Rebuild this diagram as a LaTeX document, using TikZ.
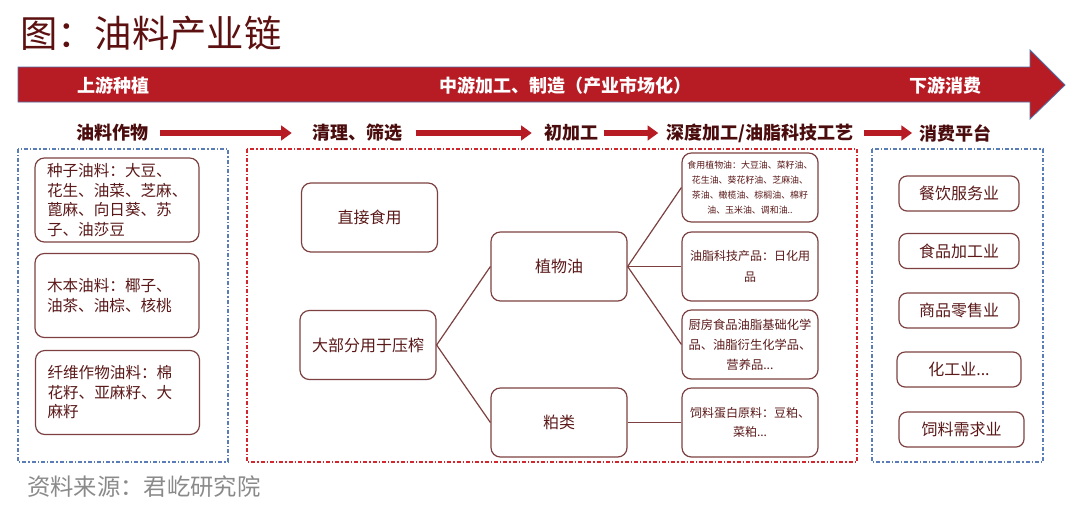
\documentclass[tikz,border=0pt]{standalone}
\usepackage{fontspec}
\setmainfont{Noto Sans CJK SC}
\usetikzlibrary{arrows.meta}
\definecolor{barred}{HTML}{B71C25}
\definecolor{barborder}{HTML}{4F6FA8}
\definecolor{titlecol}{HTML}{5C1010}
\definecolor{stagecol}{HTML}{4A0C0C}
\definecolor{boxline}{HTML}{7D4040}
\definecolor{boxtext}{HTML}{5A1818}
\definecolor{bluedash}{HTML}{5A7DB8}
\definecolor{reddash}{HTML}{D0282E}
\definecolor{srcgray}{HTML}{8A8A8A}
\begin{document}
\begin{tikzpicture}[x=0.75pt,y=-0.75pt,
  box/.style={draw=boxline, line width=0.9pt, rounded corners=7pt, text=boxtext, inner sep=0pt, align=center},
  bigbox/.style={box, minimum width=123pt, minimum height=63pt},
  midbox/.style={box, minimum width=102pt, minimum height=51.75pt, font=\fontsize{12pt}{15pt}\selectfont},
  rbox/.style={box, minimum width=102pt, minimum height=51.75pt},
  cbox/.style={box, rounded corners=6pt, minimum height=26.25pt, font=\fontsize{12pt}{15pt}\selectfont},
  panel/.style={line width=0.8pt, dash pattern=on 3pt off 1.6pt on 0.8pt off 1.6pt},
  barlabel/.style={text=white, font=\bfseries\fontsize{13.5pt}{16pt}\selectfont, inner sep=0pt},
  stagelabel/.style={text=stagecol, font=\bfseries\fontsize{13.5pt}{16pt}\selectfont, inner sep=0pt},
  stagearrow/.style={draw=barred, line width=5pt, -{Triangle[length=8pt,width=11pt]}},
  conn/.style={draw=boxline, line width=0.9pt}
]
\useasboundingbox (0,0) rectangle (1080,515);

% title
\node[anchor=west, text=titlecol, font=\fontsize{28pt}{32pt}\selectfont, inner sep=0pt] (title) at (20,33) {图：油料产业链};

% big arrow
\draw[fill=barred, draw=barborder, line width=0.6pt]
  (18,67) -- (1030,67) -- (1030,50) -- (1065,85) -- (1030,119) -- (1030,102) -- (18,102) -- cycle;
\node[barlabel] (b1) at (113,86) {上游种植};
\node[barlabel] (b2) at (565,86) {中游加工、制造（产业市场化）};
\node[barlabel] (b3) at (945,86) {下游消费};

% stage labels
\node[stagelabel] (s1) at (112,133) {油料作物};
\node[stagelabel] (s2) at (357,133) {清理、筛选};
\node[stagelabel] (s3) at (571,133) {初加工};
\node[stagelabel] (s4) at (760,133) {深度加工/油脂科技工艺};
\node[stagelabel] (s5) at (955,133) {消费平台};
\draw[stagearrow] ([xshift=9pt]s1.east) -- ([xshift=-15pt]s2.west);
\draw[stagearrow] ([xshift=10pt]s2.east) -- ([xshift=-9pt]s3.west);
\draw[stagearrow] ([xshift=4pt]s3.east) -- ([xshift=-6pt]s4.west);
\draw[stagearrow] ([xshift=8pt]s4.east) -- ([xshift=-5pt]s5.west);

% panels
\draw[panel, draw=bluedash] (18,149) rectangle (228,462);
\draw[panel, draw=reddash] (247,149) rectangle (857,462);
\draw[panel, draw=bluedash] (872,149) rectangle (1043,462);

% left boxes
\begin{scope}[every node/.append style={font=\fontsize{11.7pt}{14.6pt}\selectfont}]
\node[bigbox, text width=105pt, align=left] (l1) at (117,200) {种子油料：大豆、\\花生、油菜、芝麻、\\蓖麻、向日葵、苏\\子、油莎豆};
\node[bigbox, text width=105pt, align=left] (l2) at (117,295.5) {木本油料：椰子、\\油茶、油棕、核桃};
\node[bigbox, text width=105pt, align=left] (l3) at (117.5,392.5) {纤维作物油料：棉\\花籽、亚麻籽、大\\麻籽};
\end{scope}

% middle boxes
\node[midbox] (m0) at (369.5,217.5) {直接食用};
\node[midbox] (m1) at (368,345) {大部分用于压榨};
\node[midbox] (m2) at (559,266.5) {植物油};
\node[midbox] (m3) at (559,422.5) {粕类};

% right boxes
\node[rbox, font=\fontsize{6.7pt}{11.2pt}\selectfont] (r1) at (750,187.5) {食用植物油：大豆油、菜籽油、\\花生油、葵花籽油、芝麻油、\\茶油、橄榄油、棕榈油、棉籽\\油、玉米油、调和油..};
\node[rbox, font=\fontsize{9pt}{15.5pt}\selectfont] (r2) at (750,266.5) {油脂科技产品：日化用\\品};
\node[rbox, font=\fontsize{9.2pt}{15pt}\selectfont] (r3) at (750,344.5) {厨房食品油脂基础化学\\品、油脂衍生化学品、\\营养品...};
\node[rbox, font=\fontsize{9pt}{14pt}\selectfont] (r4) at (750,422.5) {饲料蛋白原料：豆粕、\\菜粕...};

% connectors
\draw[conn] (m1.east) -- (m2.west);
\draw[conn] (m1.east) -- (m3.west);
\draw[conn] (m2.east) -- (r1.west);
\draw[conn] (m2.east) -- (r2.west);
\draw[conn] (m2.east) -- (r3.west);
\draw[conn] (m3.east) -- (r4.west);

% consumer boxes
\node[cbox, minimum width=90pt] (c1) at (959,193.5) {餐饮服务业};
\node[cbox, minimum width=90pt] (c2) at (959,251) {食品加工业};
\node[cbox, minimum width=90pt] (c3) at (959,310.5) {商品零售业};
\node[cbox, minimum width=93pt] (c4) at (959,369.5) {化工业...};
\node[cbox, minimum width=93.75pt] (c5) at (961.5,429.5) {饲料需求业};

% source
\node[anchor=west, text=srcgray, font=\fontsize{17.5pt}{20pt}\selectfont, inner sep=0pt] (src) at (27,487) {资料来源：君屹研究院};
\end{tikzpicture}
\end{document}
